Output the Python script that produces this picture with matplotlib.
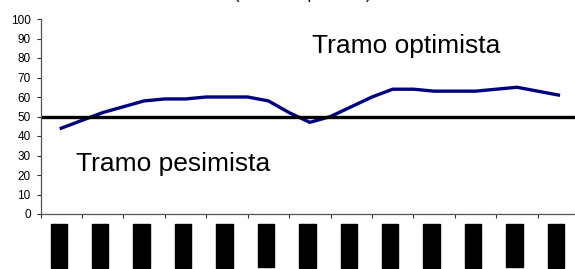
import numpy as np
import matplotlib
matplotlib.use("Agg")
import matplotlib.pyplot as plt

plt.rcParams['font.family'] = ['Liberation Sans', 'DejaVu Sans']

# serie (25 observaciones) y umbral
valores = [44, 48, 52, 55, 58, 59, 59, 60, 60, 60, 58, 52, 47,
           50, 55, 60, 64, 64, 63, 63, 63, 64, 65, 63, 61]
umbral = 50
etiquetas = ["01-2004", "03-2004", "05-2004", "07-2004", "09-2004", "11-2004", "01-2005",
             "03-2005", "05-2005", "07-2005", "09-2005", "11-2005", "01-2006"]
yticks = list(range(0, 101, 10))

x = np.arange(1, len(valores) + 1)

fig = plt.figure(figsize=(5.75, 2.69), dpi=100)
ax = fig.add_axes([40.5 / 575, 55 / 269, 534.5 / 575, 195 / 269])

ax.plot(x, valores, color="#000080", lw=2.4, solid_joinstyle="round")
ax.axhline(umbral, color="black", lw=2.4)

ax.set_xlim(0, 25.8)
ax.set_ylim(0, 100)
ax.set_yticks(yticks)
ax.set_xticks(np.arange(0, 25, 2))
ax.set_xticks(x[::2] - 0.12, minor=True)
ax.set_xticklabels([])
ax.set_xticklabels(etiquetas, minor=True, rotation=90, fontsize=7.2, color="black",
                   va="top", ha="center")
for lab in ax.get_xticklabels(minor=True):
    lab.set_bbox(dict(facecolor="black", edgecolor="black", pad=2.3))
ax.tick_params(axis="x", which="minor", length=0, pad=9.8)
ax.tick_params(axis="x", which="major", length=3, width=0.8, color="#333333")
ax.tick_params(axis="y", length=3, width=0.8, labelsize=8.5, pad=4, color="#333333")

for s in ["top", "right"]:
    ax.spines[s].set_visible(False)
for s in ["left", "bottom"]:
    ax.spines[s].set_color("#555555")
    ax.spines[s].set_linewidth(0.9)

ax.text(13.1, 82.6, "Tramo optimista", fontsize=19, va="baseline", ha="left")
ax.text(1.7, 22, "Tramo pesimista", fontsize=19, va="baseline", ha="left")

fig.text(303 / 575, 1.0 + 0.5 / 269, "(saldo respuestas)", fontsize=12,
         ha="center", va="baseline")

fig.savefig("out.png", dpi=100)
